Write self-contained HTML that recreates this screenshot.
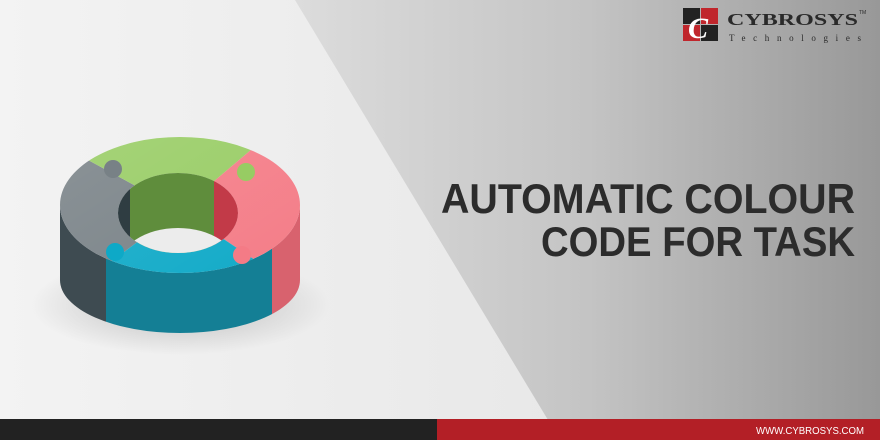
<!DOCTYPE html>
<html><head><meta charset="utf-8"><style>
html,body{margin:0;padding:0;width:880px;height:440px;overflow:hidden;background:#e6e6e6}
</style></head><body>
<svg width="880" height="440" viewBox="0 0 880 440" xmlns="http://www.w3.org/2000/svg">
<defs>
<linearGradient id="lbg" x1="0" y1="0" x2="1" y2="0"><stop offset="0" stop-color="#f3f3f3"/><stop offset="1" stop-color="#e2e2e2"/></linearGradient>
<linearGradient id="rbg" x1="0" y1="0" x2="1" y2="0"><stop offset="0" stop-color="#dcdcdc"/><stop offset="0.5" stop-color="#c4c4c4"/><stop offset="1" stop-color="#989898"/></linearGradient>
<radialGradient id="sh" cx="0.5" cy="0.5" r="0.5"><stop offset="0" stop-color="#000" stop-opacity="0.22"/><stop offset="1" stop-color="#000" stop-opacity="0"/></radialGradient>
<linearGradient id="hl" x1="0" y1="0" x2="1" y2="1"><stop offset="0" stop-color="#fff" stop-opacity="0.15"/><stop offset="1" stop-color="#fff" stop-opacity="0"/></linearGradient>
<clipPath id="side"><path d="M60,205 A120,68 0 0 0 300,205 L300,280 A120,53 0 0 1 60,280 Z"/></clipPath>
<clipPath id="top"><path fill-rule="evenodd" clip-rule="evenodd" d="M60,205 A120,68 0 0 1 300,205 A120,68 0 0 1 60,205 Z M118,213 A60,40 0 0 0 238,213 A60,40 0 0 0 118,213 Z"/></clipPath>
<clipPath id="hole"><path d="M118,213 A60,40 0 0 0 238,213 A60,40 0 0 0 118,213 Z"/></clipPath>
</defs>
<rect width="880" height="440" fill="url(#lbg)"/>
<polygon points="295,0 880,0 880,420 548,420" fill="url(#rbg)"/>
<ellipse cx="180" cy="305" rx="150" ry="50" fill="url(#sh)"/>
<g clip-path="url(#side)">
  <rect x="50" y="190" width="56" height="160" fill="#3e4b51"/>
  <rect x="106" y="190" width="166" height="160" fill="#147f95"/>
  <rect x="272" y="190" width="40" height="160" fill="#d8626e"/>
</g>
<g clip-path="url(#top)">
  <polygon points="180,210 -4,110 -4,360 0,345" fill="#788186"/>
  <polygon points="180,210 -4,110 -4,60 320,60 310,100" fill="#97cc63"/>
  <polygon points="180,210 310,100 380,100 380,340 360,330" fill="#f47b86"/>
  <polygon points="180,210 360,330 360,360 0,360 0,345" fill="#0ea9c7"/>
  <rect x="40" y="120" width="280" height="180" fill="url(#hl)"/>
</g>
<g clip-path="url(#hole)">
  <rect x="110" y="165" width="20" height="100" fill="#2f3d42"/>
  <rect x="130" y="165" width="84" height="100" fill="#5f8d3c"/>
  <rect x="214" y="165" width="30" height="100" fill="#c23a48"/>
  <ellipse cx="178" cy="268" rx="60" ry="40" fill="#ececec"/>
</g>
<circle cx="113" cy="169" r="9" fill="#788186"/>
<circle cx="246" cy="172" r="9" fill="#97cc63"/>
<circle cx="115" cy="252" r="9" fill="#0ea9c7"/>
<circle cx="242" cy="255" r="9" fill="#f47b86"/>
<!-- logo -->
<rect x="683" y="8" width="17" height="16" fill="#222"/>
<rect x="701" y="8" width="17" height="16" fill="#c0262c"/>
<rect x="683" y="25" width="17" height="16" fill="#c0262c"/>
<rect x="701" y="25" width="17" height="16" fill="#222"/>
<text x="688" y="38" font-family="Liberation Serif,serif" font-style="italic" font-weight="bold" font-size="30" fill="#fff">C</text>
<text x="727" y="25" font-family="Liberation Serif,serif" font-weight="bold" font-size="17" fill="#2a2a2a" textLength="131" lengthAdjust="spacingAndGlyphs">CYBROSYS</text>
<text x="859" y="14" font-family="Liberation Sans,sans-serif" font-size="5" fill="#2a2a2a">TM</text>
<text x="729" y="41" font-family="Liberation Serif,serif" font-size="9" fill="#2a2a2a" textLength="132" lengthAdjust="spacing">Technologies</text>
<text x="441" y="213" font-family="Liberation Sans,sans-serif" font-weight="bold" font-size="42" fill="#2c2c2c" textLength="414" lengthAdjust="spacingAndGlyphs">AUTOMATIC COLOUR</text>
<text x="541" y="256" font-family="Liberation Sans,sans-serif" font-weight="bold" font-size="42" fill="#2c2c2c" textLength="314" lengthAdjust="spacingAndGlyphs">CODE FOR TASK</text>
<rect x="0" y="419" width="437" height="21" fill="#222"/>
<rect x="437" y="419" width="443" height="21" fill="#b31f26"/>
<text x="756" y="434" font-family="Liberation Sans,sans-serif" font-size="10" fill="#fff" textLength="108" lengthAdjust="spacingAndGlyphs">WWW.CYBROSYS.COM</text>
</svg>
</body></html>
